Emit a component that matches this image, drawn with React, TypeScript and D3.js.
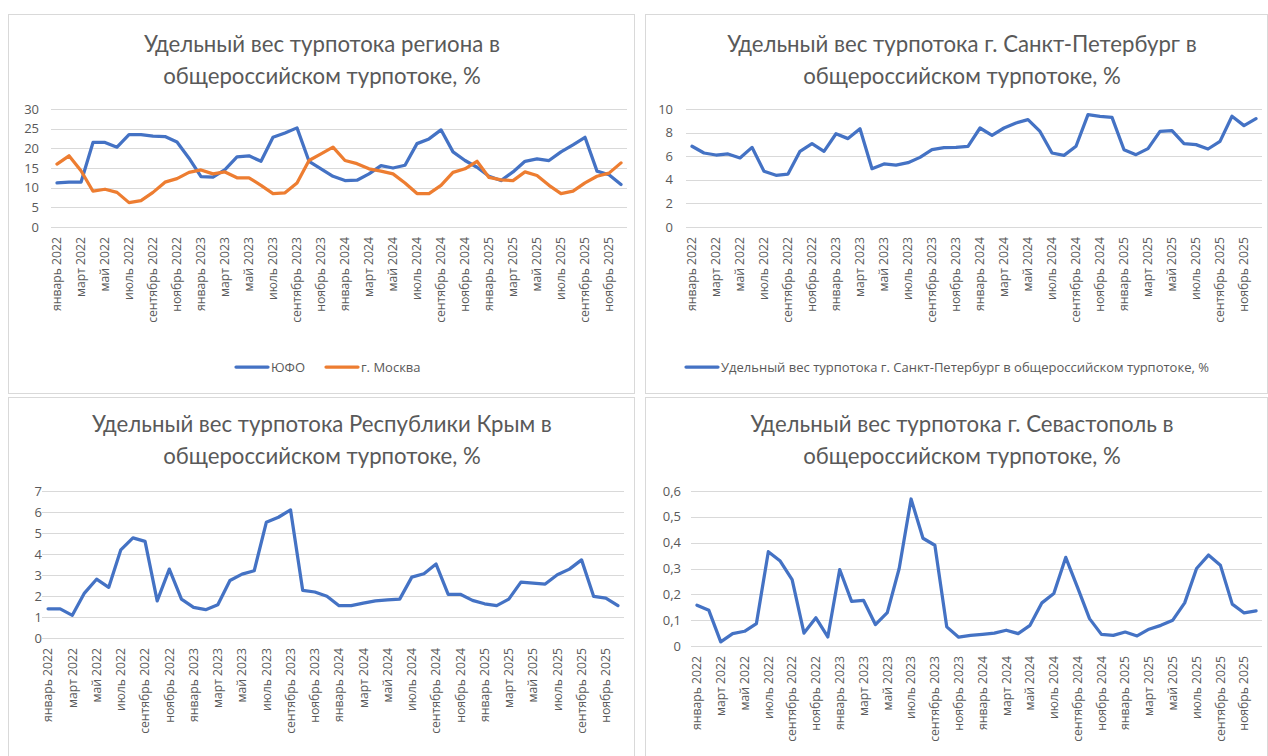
import React from "react";
import * as d3 from "d3";

const monthNames = ["январь","февраль","март","апрель","май","июнь","июль","август","сентябрь","октябрь","ноябрь","декабрь"];
const years = [2022, 2023, 2024, 2025];
const categories: string[] = years.flatMap((y) => monthNames.map((m) => `${m} ${y}`));

const yufo = [11.2,11.4,11.4,21.5,21.5,20.3,23.5,23.5,23.1,23.0,21.6,17.5,12.8,12.7,14.6,17.8,18.1,16.7,22.8,23.9,25.2,16.7,14.8,12.9,11.8,11.9,13.5,15.6,15.0,15.7,21.2,22.4,24.7,19.1,16.9,15.2,12.9,11.8,14.0,16.7,17.3,16.9,19.1,20.9,22.8,14.2,13.3,10.8];
const moscow = [16.0,18.1,14.3,9.1,9.6,8.8,6.2,6.7,8.8,11.4,12.3,13.9,14.5,13.5,14.0,12.5,12.5,10.6,8.5,8.7,11.2,16.9,18.6,20.3,16.9,16.1,14.8,14.2,13.5,11.2,8.5,8.5,10.6,13.9,14.8,16.7,12.6,12.0,11.8,14.0,13.1,10.6,8.5,9.1,11.2,12.9,13.7,16.3];
const spb = [6.84,6.27,6.1,6.19,5.85,6.75,4.72,4.38,4.49,6.41,7.06,6.41,7.9,7.49,8.33,4.94,5.34,5.25,5.45,5.9,6.55,6.72,6.75,6.84,8.39,7.77,8.39,8.81,9.1,8.1,6.27,6.07,6.84,9.52,9.38,9.29,6.55,6.13,6.64,8.1,8.16,7.06,6.98,6.61,7.26,9.38,8.59,9.18];
const crimea = [1.39,1.39,1.08,2.14,2.8,2.41,4.2,4.77,4.6,1.77,3.28,1.85,1.46,1.35,1.58,2.74,3.04,3.2,5.51,5.75,6.1,2.27,2.19,1.99,1.54,1.54,1.66,1.77,1.82,1.85,2.9,3.06,3.52,2.08,2.08,1.79,1.63,1.54,1.85,2.66,2.61,2.57,3.01,3.28,3.72,1.98,1.9,1.54];
const sevastopol = [0.158,0.138,0.016,0.048,0.057,0.087,0.365,0.329,0.257,0.05,0.109,0.035,0.296,0.173,0.177,0.083,0.129,0.3,0.569,0.417,0.39,0.074,0.034,0.041,0.045,0.05,0.061,0.048,0.08,0.167,0.203,0.343,0.226,0.106,0.045,0.041,0.054,0.039,0.065,0.08,0.1,0.167,0.3,0.352,0.313,0.162,0.128,0.136];

const ticks1 = [0, 5, 10, 15, 20, 25, 30];
const ticks2 = [0, 2, 4, 6, 8, 10];
const ticks3 = [0, 1, 2, 3, 4, 5, 6, 7];
const ticks4 = [0, 0.1, 0.2, 0.3, 0.4, 0.5, 0.6];

const title1 = ["Удельный вес турпотока региона в", "общероссийском турпотоке, %"];
const title2 = ["Удельный вес турпотока г. Санкт-Петербург в", "общероссийском турпотоке, %"];
const title3 = ["Удельный вес турпотока Республики Крым в", "общероссийском турпотоке, %"];
const title4 = ["Удельный вес турпотока г. Севастополь в", "общероссийском турпотоке, %"];

const BLUE = "#4472C4";
const ORANGE = "#ED7D31";
const GRID = "#d9d9d9";
const TEXT = "#595959";
const TICKFONT = "'Open Sans', 'Noto Sans', sans-serif";
const TITLEFONT = "Lato, 'Open Sans', sans-serif";

type Series = { name: string; values: number[]; color: string };

function Panel(props: {
  box: [number, number, number, number];
  left: number; right: number; top: number; bottom: number;
  ticks: number[]; fmt: (v: number) => string; labelX: number;
  title: string[]; titleY: number; titleX: number;
  series: Series[];
  legend?: { y: number; items: { x: number }[] };
}) {
  const { box, left, right, top, bottom, ticks, fmt, labelX, title, titleY, titleX, series, legend } = props;
  const x = d3.scaleBand<string>().domain(categories).range([left, right]);
  const y = d3.scaleLinear().domain([0, ticks[ticks.length - 1]]).range([bottom, top]);
  const line = d3.line<number>().x((_, i) => (x(categories[i]) as number) + x.bandwidth() / 2).y((d) => y(d));
  return (
    <g>
      <rect x={box[0] + 0.5} y={box[1] + 0.5} width={box[2]} height={box[3]} fill="#fff" stroke={GRID} />
      {title.map((t, i) => (
        <text key={i} x={titleX} y={titleY + i * 32} textAnchor="middle" fontFamily={TITLEFONT} fontSize={22.2} fill={TEXT}>{t}</text>
      ))}
      {ticks.map((t) => (
        <g key={t}>
          <line x1={left} x2={right} y1={Math.round(y(t)) + 0.5} y2={Math.round(y(t)) + 0.5} stroke={GRID} strokeWidth={1} />
          <text x={labelX} y={y(t)} dy="0.35em" textAnchor="end" fontFamily={TICKFONT} fontSize={13} fill={TEXT}>{fmt(t)}</text>
        </g>
      ))}
      {categories.map((c, i) => {
        if (i % 2 !== 0) return null;
        const cx = (x(c) as number) + x.bandwidth() / 2;
        const ty = bottom + 10;
        return (
          <text key={c} transform={`translate(${cx},${ty}) rotate(-90)`} dy="0.35em" textAnchor="end" fontFamily={TICKFONT} fontSize={12.2} fill={TEXT}>{c}</text>
        );
      })}
      {series.map((s) => (
        <path key={s.name} d={line(s.values) || ""} fill="none" stroke={s.color} strokeWidth={3.25} strokeLinejoin="round" strokeLinecap="round" />
      ))}
      {legend && series.map((s, i) => (
        <g key={s.name}>
          <line x1={legend.items[i].x} x2={legend.items[i].x + 32} y1={legend.y} y2={legend.y} stroke={s.color} strokeWidth={3.25} strokeLinecap="round" />
          <text x={legend.items[i].x + 35} y={legend.y} dy="0.35em" fontFamily={TICKFONT} fontSize={13} fill={TEXT}>{s.name}</text>
        </g>
      ))}
    </g>
  );
}

const fmtInt = (v: number) => String(v);
const fmtDec = (v: number) => d3.format(".1f")(v).replace(".", ",").replace(/^0,0$/, "0");

export default function App() {
  return (
    <svg width={1268} height={756} style={{ position: "absolute", left: 0, top: 0, background: "#fff" }}>
      <Panel box={[8, 14, 626, 379]} left={51} right={627} top={109} bottom={227} ticks={ticks1} fmt={fmtInt} labelX={39}
        title={title1} titleX={322} titleY={52}
        series={[{ name: "ЮФО", values: yufo, color: BLUE }, { name: "г. Москва", values: moscow, color: ORANGE }]}
        legend={{ y: 367, items: [{ x: 236 }, { x: 326 }] }} />
      <Panel box={[645, 14, 622, 379]} left={686} right={1262} top={109} bottom={227} ticks={ticks2} fmt={fmtInt} labelX={673}
        title={title2} titleX={962} titleY={52}
        series={[{ name: "Удельный вес турпотока г. Санкт-Петербург в общероссийском турпотоке, %", values: spb, color: BLUE }]}
        legend={{ y: 367, items: [{ x: 686 }] }} />
      <Panel box={[8, 397, 626, 370]} left={42} right={624} top={491} bottom={638} ticks={ticks3} fmt={fmtInt} labelX={42}
        title={title3} titleX={322} titleY={432}
        series={[{ name: "Крым", values: crimea, color: BLUE }]} />
      <Panel box={[645, 397, 622, 370]} left={691} right={1262} top={491} bottom={646} ticks={ticks4} fmt={fmtDec} labelX={681}
        title={title4} titleX={962} titleY={432}
        series={[{ name: "Севастополь", values: sevastopol, color: BLUE }]} />
    </svg>
  );
}
